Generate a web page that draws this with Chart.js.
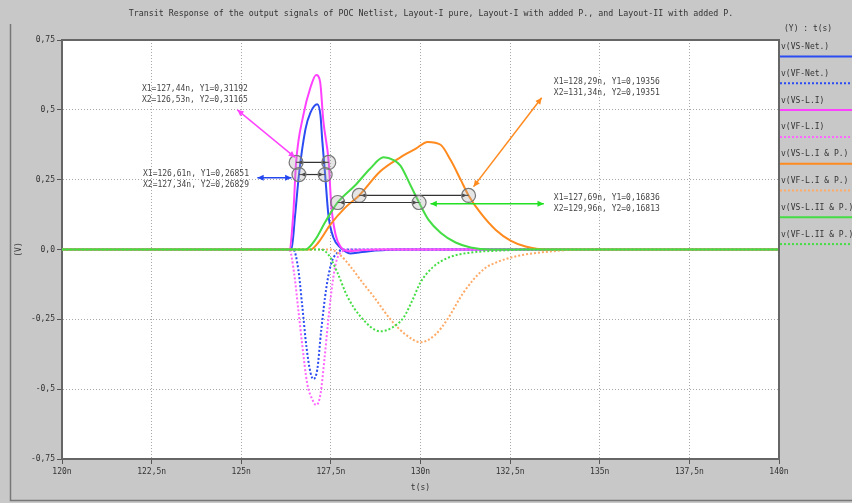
<!DOCTYPE html>
<html>
<head>
<meta charset="utf-8">
<script src="https://cdn.jsdelivr.net/npm/chart.js@4.4.1/dist/chart.umd.min.js"></script>
<style>
  html, body { margin: 0; padding: 0; background: #c8c8c8; }
  #wrap { width: 852px; height: 503px; }
</style>
</head>
<body>
<div id="wrap"><canvas id="chart" width="852" height="503"></canvas></div>
<script>
const chartTitle = 'Transit Response of the output signals of POC Netlist, Layout-I pure, Layout-I with added P., and Layout-II with added P.'
const seriesLabels = ['v(VS-Net.)', 'v(VF-Net.)', 'v(VS-L.I)', 'v(VF-L.I)', 'v(VS-L.I & P.)', 'v(VF-L.I & P.)', 'v(VS-L.II & P.)', 'v(VF-L.II & P.)']
const xTickLabels = ['120n', '122,5n', '125n', '127,5n', '130n', '132,5n', '135n', '137,5n', '140n']
const yTickLabels = ['-0,75', '-0,5', '-0,25', '0,0', '0,25', '0,5', '0,75']

// time in ns, voltage in V
const vsNetT = [120, 126.4, 126.5, 126.61, 126.79, 126.93, 127.12, 127.21, 127.26, 127.34, 127.43, 127.57, 127.77, 128.04, 128.32, 128.74, 129.44, 140]
const vsNetV = [0, 0, 0.12, 0.2685, 0.43, 0.49, 0.52, 0.48, 0.39, 0.2683, 0.125, 0.043, 0.007, -0.014, -0.01, -0.004, 0, 0]
const vfNetT = [120, 126.45, 126.59, 126.7, 126.82, 126.93, 127.01, 127.12, 127.23, 127.37, 127.51, 127.68, 127.9, 140]
const vfNetV = [0, 0, -0.07, -0.2, -0.35, -0.44, -0.464, -0.43, -0.29, -0.14, -0.05, -0.012, 0, 0]
const vsL1T = [120, 126.34, 126.45, 126.53, 126.73, 126.93, 127.09, 127.2, 127.29, 127.44, 127.51, 127.63, 127.77, 128.0, 128.3, 128.9, 140]
const vsL1V = [0, 0, 0.125, 0.3117, 0.48, 0.58, 0.625, 0.6, 0.46, 0.3119, 0.16, 0.054, 0.01, -0.006, -0.003, 0, 0]
const vfL1T = [120, 126.34, 126.48, 126.59, 126.7, 126.84, 126.98, 127.09, 127.21, 127.32, 127.43, 127.54, 127.65, 127.82, 128.04, 140]
const vfL1V = [0, 0, -0.09, -0.214, -0.34, -0.48, -0.536, -0.557, -0.518, -0.393, -0.25, -0.125, -0.043, -0.007, 0, 0]
const vsL1PT = [120, 126.93, 127.15, 127.49, 127.9, 128.29, 128.88, 129.44, 129.86, 130.2, 130.56, 130.84, 131.12, 131.34, 131.68, 132.1, 132.51, 132.93, 133.5, 140]
const vsL1PV = [0, 0, 0.025, 0.09, 0.15, 0.1936, 0.28, 0.33, 0.36, 0.385, 0.375, 0.32, 0.25, 0.1935, 0.13, 0.07, 0.032, 0.011, 0, 0]
const vfL1PT = [120, 127.49, 127.77, 128.04, 128.38, 128.69, 129.16, 129.58, 130.0, 130.42, 130.75, 131.2, 131.76, 132.18, 132.79, 133.63, 134.47, 140]
const vfL1PV = [0, 0, -0.021, -0.06, -0.118, -0.168, -0.25, -0.304, -0.332, -0.304, -0.25, -0.154, -0.071, -0.043, -0.021, -0.007, 0, 0]
const vsL2PT = [120, 126.79, 127.07, 127.35, 127.69, 128.18, 128.6, 128.97, 129.25, 129.44, 129.72, 129.96, 130.22, 130.56, 130.98, 131.4, 131.96, 140]
const vsL2PV = [0, 0, 0.036, 0.1, 0.1684, 0.23, 0.29, 0.33, 0.32, 0.3, 0.23, 0.1681, 0.107, 0.06, 0.025, 0.007, 0, 0]
const vfL2PT = [120, 127.21, 127.43, 127.68, 127.96, 128.32, 128.88, 129.22, 129.53, 129.78, 130.0, 130.34, 130.78, 131.4, 132.23, 133.07, 140]
const vfL2PV = [0, 0, -0.018, -0.082, -0.168, -0.239, -0.293, -0.279, -0.243, -0.18, -0.118, -0.064, -0.029, -0.011, -0.004, 0, 0]

// cursor pairs read from the annotation texts
const cursorT = [[126.53, 127.44], [126.61, 127.34], [128.29, 131.34], [127.69, 129.96]]
const cursorV = [0.3118, 0.2684, 0.1935, 0.1682]
const cursorText = [
  ['X1=127,44n, Y1=0,31192', 'X2=126,53n, Y2=0,31165'],
  ['X1=126,61n, Y1=0,26851', 'X2=127,34n, Y2=0,26829'],
  ['X1=128,29n, Y1=0,19356', 'X2=131,34n, Y2=0,19351'],
  ['X1=127,69n, Y1=0,16836', 'X2=129,96n, Y2=0,16813']
]
const cursorColors = ['#ff44ff', '#2447f0', '#ff8a1e', '#22e022']
// text anchor (left, first line) and arrow ends, in axis units
const textAt = [[122.23, 0.575], [122.26, 0.27], [133.72, 0.6], [133.72, 0.186]]
const arrowFrom = [[124.89, 0.5], [125.45, 0.257], [133.38, 0.543], [130.28, 0.164]]
const arrowTo = [[126.5, 0.33], [126.4, 0.257], [131.48, 0.225], [133.44, 0.164]]

const colors = ['#2a4cf2', '#2a4cf2', '#ff40ff', '#ff66ff', '#ff8a1e', '#ffaa66', '#44dd44', '#44dd44']
// drawing order: lower is drawn later (on top)
const drawOrder = [8, 7, 6, 5, 4, 3, 1, 2]
const times = [vsNetT, vfNetT, vsL1T, vfL1T, vsL1PT, vfL1PT, vsL2PT, vfL2PT]
const values = [vsNetV, vfNetV, vsL1V, vfL1V, vsL1PV, vfL1PV, vsL2PV, vfL2PV]

const monoFont = '"DejaVu Sans Mono", monospace'

function toPoints (t, v) {
  return t.map((x, i) => ({ x: x, y: v[i] }))
}

function arrowHead (ctx, x1, y1, x2, y2, size) {
  const a = Math.atan2(y2 - y1, x2 - x1)
  ctx.beginPath()
  ctx.moveTo(x2, y2)
  ctx.lineTo(x2 - size * Math.cos(a - 0.45), y2 - size * Math.sin(a - 0.45))
  ctx.lineTo(x2 - size * Math.cos(a + 0.45), y2 - size * Math.sin(a + 0.45))
  ctx.closePath()
  ctx.fill()
}

const datasets = seriesLabels.map((label, i) => ({
  label: label,
  data: toPoints(times[i], values[i]),
  borderColor: colors[i],
  borderWidth: 2,
  borderDash: i % 2 === 1 ? [2, 2] : [],
  pointRadius: 0,
  fill: false,
  order: drawOrder[i],
  cubicInterpolationMode: 'monotone'
}))

const framePlugin = {
  id: 'frame',
  beforeDraw (chart) {
    const { ctx, chartArea: a } = chart
    ctx.save()
    ctx.fillStyle = '#c8c8c8'
    ctx.fillRect(0, 0, chart.width, chart.height)
    ctx.fillStyle = '#ffffff'
    ctx.fillRect(a.left, a.top, a.right - a.left, a.bottom - a.top)
    ctx.restore()
  },
  afterDraw (chart) {
    const { ctx, chartArea: a } = chart
    ctx.save()
    // outer frame
    ctx.strokeStyle = '#777'
    ctx.lineWidth = 1.5
    ctx.beginPath()
    ctx.moveTo(10.5, 24)
    ctx.lineTo(10.5, 500.5)
    ctx.lineTo(852, 500.5)
    ctx.stroke()
    // plot box top and right
    ctx.strokeStyle = '#666'
    ctx.lineWidth = 2
    ctx.beginPath()
    ctx.moveTo(a.left, a.top)
    ctx.lineTo(a.right, a.top)
    ctx.lineTo(a.right, a.bottom)
    ctx.stroke()
    // title
    ctx.fillStyle = '#333'
    ctx.font = '8.3px ' + monoFont
    ctx.textAlign = 'center'
    ctx.textBaseline = 'middle'
    ctx.fillText(chartTitle, 431, 14)
    // axis titles
    ctx.font = '8px ' + monoFont
    ctx.fillText('t(s)', (a.left + a.right) / 2, 488)
    ctx.save()
    ctx.translate(19, (a.top + a.bottom) / 2)
    ctx.rotate(-Math.PI / 2)
    ctx.fillText('(V)', 0, 0)
    ctx.restore()
    // legend
    ctx.textAlign = 'left'
    ctx.fillText('(Y) : t(s)', 784, 29)
    seriesLabels.forEach((label, i) => {
      const ds = chart.data.datasets[i]
      const ty = 47 + i * 26.8
      ctx.fillStyle = '#333'
      ctx.fillText(label, 781, ty)
      ctx.strokeStyle = ds.borderColor
      ctx.lineWidth = 2
      ctx.setLineDash(ds.borderDash)
      ctx.beginPath()
      ctx.moveTo(780, ty + 9.5)
      ctx.lineTo(852, ty + 9.5)
      ctx.stroke()
      ctx.setLineDash([])
    })
    ctx.restore()
  }
}

const cursorPlugin = {
  id: 'cursors',
  afterDatasetsDraw (chart) {
    const { ctx, scales: { x, y } } = chart
    ctx.save()
    cursorT.forEach((pair, i) => {
      const py = y.getPixelForValue(cursorV[i])
      const x1 = x.getPixelForValue(pair[0])
      const x2 = x.getPixelForValue(pair[1])
      const lx = Math.min(x1, x2)
      const rx = Math.max(x1, x2)
      // connecting line
      ctx.strokeStyle = '#333'
      ctx.lineWidth = 1.2
      ctx.beginPath()
      ctx.moveTo(lx, py)
      ctx.lineTo(rx, py)
      ctx.stroke()
      // markers
      ctx.fillStyle = '#222'
      arrowHead(ctx, lx + 10, py, lx + 2, py, 5)
      arrowHead(ctx, rx - 10, py, rx - 2, py, 5)
      ;[lx, rx].forEach(px => {
        ctx.beginPath()
        ctx.arc(px, py, 7, 0, Math.PI * 2)
        ctx.fillStyle = 'rgba(170,170,170,0.3)'
        ctx.fill()
        ctx.strokeStyle = '#777'
        ctx.lineWidth = 1.2
        ctx.stroke()
      })
      // arrow from text
      const ax1 = x.getPixelForValue(arrowFrom[i][0])
      const ay1 = y.getPixelForValue(arrowFrom[i][1])
      const ax2 = x.getPixelForValue(arrowTo[i][0])
      const ay2 = y.getPixelForValue(arrowTo[i][1])
      ctx.strokeStyle = cursorColors[i]
      ctx.fillStyle = cursorColors[i]
      ctx.lineWidth = 1.5
      ctx.beginPath()
      ctx.moveTo(ax1, ay1)
      ctx.lineTo(ax2, ay2)
      ctx.stroke()
      arrowHead(ctx, ax1, ay1, ax2, ay2, 7)
      arrowHead(ctx, ax2, ay2, ax1, ay1, 7)
      // text
      ctx.fillStyle = '#444'
      ctx.font = '8px ' + monoFont
      ctx.textAlign = 'left'
      ctx.textBaseline = 'middle'
      const tx = x.getPixelForValue(textAt[i][0])
      const ty = y.getPixelForValue(textAt[i][1])
      ctx.fillText(cursorText[i][0], tx, ty)
      ctx.fillText(cursorText[i][1], tx, ty + 11)
    })
    ctx.restore()
  }
}

const gridStyle = {
  color: '#a8a8a8',
  lineWidth: 1,
  tickLength: 5,
  tickColor: '#555',
  tickWidth: 1,
  tickBorderDash: []
}

const borderStyle = { display: true, color: '#666', width: 2, dash: [1, 2] }

new Chart(document.getElementById('chart'), {
  type: 'line',
  data: { datasets: datasets },
  plugins: [framePlugin, cursorPlugin],
  options: {
    responsive: false,
    animation: false,
    layout: { padding: { top: 40, right: 73, left: 0, bottom: 0 } },
    plugins: {
      legend: { display: false },
      title: { display: false },
      tooltip: { enabled: false }
    },
    scales: {
      x: {
        type: 'linear',
        min: 120,
        max: 140,
        afterFit: scale => { scale.height = 44 },
        afterBuildTicks: scale => {
          scale.ticks = xTickLabels.map((l, i) => ({ value: 120 + i * 2.5 }))
        },
        ticks: {
          color: '#333',
          font: { family: monoFont, size: 8 },
          padding: 3,
          maxRotation: 0,
          callback: (v, i) => xTickLabels[i]
        },
        grid: gridStyle,
        border: borderStyle
      },
      y: {
        min: -0.75,
        max: 0.75,
        afterFit: scale => { scale.width = 62 },
        afterBuildTicks: scale => {
          scale.ticks = yTickLabels.map((l, i) => ({ value: -0.75 + i * 0.25 }))
        },
        ticks: {
          color: '#333',
          font: { family: monoFont, size: 8 },
          padding: 2,
          callback: (v, i) => yTickLabels[i]
        },
        grid: gridStyle,
        border: borderStyle
      }
    }
  }
})
</script>
</body>
</html>
